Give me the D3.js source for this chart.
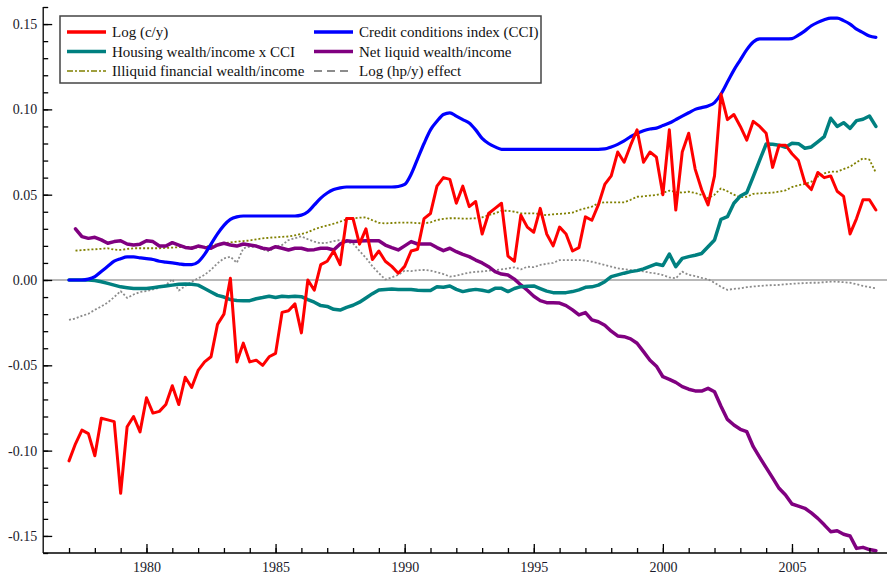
<!DOCTYPE html>
<html><head><meta charset="utf-8">
<script src="https://cdn.jsdelivr.net/npm/d3@7"></script>
<style>body{margin:0;background:#fff}svg{display:block}</style>
</head><body><svg id="c" width="887" height="577"></svg>
<script>
// ---- data (quarterly) ----
const startMain = 1977.0;   // red, blue, teal, gray
const startLate = 1977.25;  // purple, olive
const step = 0.25;

const logCY = [
-0.106,-0.096,-0.088,-0.090,
-0.103,-0.081,-0.082,-0.083,
-0.125,-0.086,-0.080,-0.089,
-0.069,-0.078,-0.077,-0.073,
-0.062,-0.073,-0.057,-0.063,
-0.053,-0.048,-0.045,-0.026,
-0.020,0.001,-0.048,-0.037,
-0.048,-0.047,-0.050,-0.045,
-0.043,-0.019,-0.018,-0.014,
-0.031,0.000,-0.006,0.009,
0.011,0.017,0.009,0.036,
0.036,0.021,0.030,0.012,
0.017,0.011,0.008,0.004,
0.008,0.017,0.018,0.036,
0.039,0.055,0.060,0.059,
0.045,0.055,0.043,0.046,
0.027,0.039,0.042,0.045,
0.014,0.011,0.038,0.031,
0.028,0.042,0.027,0.020,
0.031,0.027,0.017,0.019,
0.037,0.035,0.044,0.056,
0.061,0.075,0.069,0.079,
0.088,0.069,0.075,0.072,
0.050,0.088,0.041,0.075,
0.086,0.065,0.053,0.044,
0.061,0.109,0.094,0.097,
0.090,0.082,0.093,0.090,
0.086,0.066,0.079,0.079,
0.074,0.070,0.057,0.053,
0.063,0.060,0.061,0.052,
0.049,0.027,0.036,0.047,
0.047,0.041];

const cci = [
0,0,0,0.0005,
0.002,0.005,0.008,0.011,
0.0125,0.0135,0.0135,0.013,
0.0125,0.012,0.011,0.0105,
0.010,0.0095,0.009,0.009,
0.0105,0.015,0.021,0.027,
0.032,0.0355,0.037,0.0375,
0.0375,0.0375,0.0375,0.0375,
0.0375,0.0375,0.0375,0.0375,
0.038,0.040,0.044,0.048,
0.051,0.053,0.054,0.0545,
0.0545,0.0545,0.0545,0.0545,
0.0545,0.0545,0.0545,0.0548,
0.056,0.062,0.071,0.080,
0.088,0.093,0.097,0.098,
0.096,0.094,0.092,0.088,
0.083,0.080,0.078,0.0766,
0.0766,0.0766,0.0766,0.0766,
0.0766,0.0766,0.0766,0.0766,
0.0766,0.0766,0.0766,0.0766,
0.0766,0.0766,0.0766,0.0768,
0.078,0.0795,0.0815,0.084,
0.086,0.0875,0.0885,0.089,
0.0905,0.092,0.094,0.096,
0.098,0.100,0.101,0.102,
0.104,0.109,0.116,0.123,
0.129,0.135,0.1395,0.1413,
0.1413,0.1413,0.1413,0.1413,
0.1415,0.1435,0.146,0.149,
0.151,0.1525,0.1535,0.1535,
0.152,0.150,0.147,0.145,
0.143,0.1422];

const housingCCI = [
0,0,0,0,
-0.0003,-0.001,-0.002,-0.003,
-0.004,-0.0045,-0.005,-0.005,
-0.005,-0.0045,-0.004,-0.0035,
-0.003,-0.0025,-0.0023,-0.0025,
-0.003,-0.005,-0.007,-0.009,
-0.010,-0.0115,-0.012,-0.0121,
-0.0121,-0.011,-0.0103,-0.0095,
-0.0103,-0.0095,-0.0098,-0.0095,
-0.0098,-0.0115,-0.013,-0.015,
-0.0155,-0.0172,-0.0176,-0.016,
-0.0148,-0.013,-0.0105,-0.008,
-0.0058,-0.0055,-0.0053,-0.0055,
-0.0055,-0.0056,-0.006,-0.0062,
-0.0062,-0.004,-0.0042,-0.0035,
-0.0055,-0.0068,-0.006,-0.0055,
-0.006,-0.0068,-0.0049,-0.0049,
-0.0068,-0.005,-0.0039,-0.0037,
-0.0035,-0.005,-0.0065,-0.0074,
-0.0074,-0.0074,-0.0068,-0.0058,
-0.0043,-0.0040,-0.003,-0.001,
0.002,0.003,0.004,0.0049,
0.0055,0.0065,0.008,0.0094,
0.0085,0.0152,0.0078,0.0127,
0.0137,0.0145,0.0155,0.0195,
0.0234,0.0356,0.0371,0.045,
0.0492,0.0512,0.0606,0.0703,
0.0797,0.0795,0.079,0.0778,
0.0801,0.0799,0.0772,0.078,
0.081,0.084,0.0948,0.090,
0.0922,0.0889,0.0934,0.0942,
0.0961,0.090];

const netLiquid = [
0.030,0.0254,0.0244,
0.025,0.0235,0.0215,0.0225,
0.023,0.0211,0.0205,0.021,
0.023,0.0225,0.0199,0.0199,
0.0219,0.0205,0.0191,0.0186,
0.0199,0.0191,0.0186,0.0205,
0.0215,0.0205,0.0199,0.0211,
0.0205,0.0199,0.0186,0.018,
0.0195,0.0186,0.0176,0.0186,
0.0186,0.0176,0.0178,0.0186,
0.0186,0.0176,0.0211,0.023,
0.0225,0.0228,0.023,0.023,
0.023,0.0205,0.019,0.0176,
0.020,0.0225,0.0211,0.0211,
0.0211,0.019,0.0172,0.0186,
0.0166,0.015,0.0137,0.0117,
0.010,0.0078,0.0049,0.0035,
0.0029,0.0005,-0.0029,-0.006,
-0.0095,-0.0121,-0.0133,-0.0134,
-0.0135,-0.015,-0.0175,-0.0205,
-0.0191,-0.0234,-0.0245,-0.0265,
-0.030,-0.0328,-0.0332,-0.0345,
-0.0371,-0.042,-0.047,-0.0505,
-0.0567,-0.0582,-0.060,-0.0625,
-0.064,-0.065,-0.0651,-0.0635,
-0.0655,-0.074,-0.0817,-0.085,
-0.0875,-0.0889,-0.0977,-0.104,
-0.110,-0.116,-0.1221,-0.126,
-0.1313,-0.1325,-0.1338,-0.1365,
-0.1397,-0.1435,-0.1475,-0.147,
-0.149,-0.150,-0.1573,-0.1567,
-0.158,-0.1587];

const illiquid = [
0.0172,0.0175,0.0178,
0.018,0.0183,0.0186,0.0178,
0.0176,0.0182,0.0186,0.0186,
0.0186,0.0186,0.0186,0.0188,
0.019,0.0192,0.0195,0.0192,
0.019,0.0195,0.0202,0.021,
0.0215,0.022,0.0225,0.0228,
0.0232,0.0238,0.0244,0.0248,
0.025,0.0253,0.0255,0.0262,
0.027,0.028,0.0297,0.031,
0.032,0.033,0.0342,0.0356,
0.0362,0.0365,0.0367,0.035,
0.0335,0.0332,0.0334,0.0336,
0.0336,0.0336,0.0333,0.0332,
0.0338,0.0352,0.0358,0.0362,
0.0362,0.036,0.036,0.0362,
0.0367,0.038,0.0391,0.0406,
0.0406,0.040,0.0391,0.0391,
0.0391,0.0385,0.038,0.0385,
0.0388,0.039,0.0395,0.041,
0.042,0.043,0.045,0.0455,
0.0455,0.0455,0.0455,0.047,
0.0488,0.049,0.0495,0.0498,
0.051,0.0524,0.0515,0.0512,
0.0518,0.051,0.0498,0.0479,
0.050,0.0537,0.052,0.050,
0.0485,0.0488,0.0505,0.0508,
0.051,0.0512,0.0518,0.0525,
0.0545,0.0555,0.0563,0.0576,
0.0606,0.0625,0.0635,0.0635,
0.065,0.0664,0.069,0.0713,
0.0705,0.0629];

const hpEffect = [
-0.0234,-0.0225,-0.021,-0.0198,
-0.0175,-0.0155,-0.0132,-0.010,
-0.0065,-0.0105,-0.0085,-0.007,
-0.0065,-0.0055,-0.0045,-0.003,
0.0004,-0.0062,-0.0035,-0.001,
0.001,0.003,0.006,0.0098,
0.0127,0.0137,0.0101,0.0186,
0.0195,0.0195,0.018,0.0168,
0.0195,0.0205,0.0234,0.0245,
0.0256,0.0239,0.0225,0.0215,
0.0219,0.0228,0.0234,0.0222,
0.0215,0.017,0.013,0.008,
0.004,0.0003,0.0015,0.003,
0.0055,0.0052,0.0057,0.0059,
0.0055,0.0045,0.0035,0.002,
0.0025,0.0035,0.0043,0.0048,
0.005,0.0055,0.0059,0.0062,
0.0068,0.0074,0.0062,0.0078,
0.0075,0.0088,0.0095,0.010,
0.0117,0.0117,0.0117,0.0117,
0.0114,0.0107,0.0098,0.0088,
0.0078,0.0068,0.0063,0.0058,
0.0055,0.005,0.0043,0.0038,
0.0029,0.0015,0.001,0.0049,
0.003,0.0023,0.0012,0.0004,
-0.0016,-0.004,-0.0058,-0.0052,
-0.0049,-0.0042,-0.0038,-0.0035,
-0.0032,-0.003,-0.0029,-0.0025,
-0.0022,-0.002,-0.0018,-0.0016,
-0.0016,-0.0013,-0.001,-0.001,
-0.0013,-0.0016,-0.0025,-0.0035,
-0.0042,-0.0049];

const yMajorTicks = [-0.15,-0.10,-0.05,0.00,0.05,0.10,0.15];
const xMajorTicks = [1980,1985,1990,1995,2000,2005];

const legendItems = [
  {label:"Log (c/y)", color:"#ff0000", key:"red"},
  {label:"Credit conditions index (CCI)", color:"#0000ff", key:"blue"},
  {label:"Housing wealth/income x CCI", color:"#008080", key:"teal"},
  {label:"Net liquid wealth/income", color:"#800080", key:"purple"},
  {label:"Illiquid financial wealth/income", color:"#808000", key:"olive"},
  {label:"Log (hp/y) effect", color:"#8c8c8c", key:"gray"}
];

// ---- drawing ----
const svg = d3.select("#c");
const FONT = "'Liberation Serif','Times New Roman',serif";
const x = d3.scaleLinear().domain([1976, 2008.75]).range([43.2, 888.8]);
const y = d3.scaleLinear().domain([-0.16, 0.16]).range([553, 7]);
const x0 = x.range()[0];

const toPts = (arr, start) => arr.map((v,i)=>({t:start + i*step, v}));

// zero line
svg.append("line").attr("x1", x0).attr("x2", 887)
  .attr("y1", y(0)).attr("y2", y(0))
  .attr("stroke", "#a0a0a0").attr("stroke-width", 1.5);

const styles = {
  red:   {w:3,   dash:null},
  blue:  {w:3.2, dash:null},
  teal:  {w:3.5, dash:null},
  purple:{w:3.5, dash:null},
  olive: {w:1.8, dash:"2,2"},
  gray:  {w:1.8, dash:"2,2"}
};
const series = [
  {key:"gray",   data: toPts(hpEffect, startMain), curve: d3.curveLinear},
  {key:"olive",  data: toPts(illiquid, startLate), curve: d3.curveLinear},
  {key:"purple", data: toPts(netLiquid, startLate), curve: d3.curveLinear},
  {key:"teal",   data: toPts(housingCCI, startMain), curve: d3.curveLinear},
  {key:"blue",   data: toPts(cci, startMain), curve: d3.curveMonotoneX},
  {key:"red",    data: toPts(logCY, startMain), curve: d3.curveLinear}
];
const colorOf = k => legendItems.find(d=>d.key===k).color;
series.forEach(s=>{
  const line = d3.line().x(d=>x(d.t)).y(d=>y(d.v)).curve(s.curve);
  svg.append("path").datum(s.data).attr("d", line)
    .attr("fill","none").attr("stroke", colorOf(s.key))
    .attr("stroke-width", styles[s.key].w)
    .attr("stroke-dasharray", styles[s.key].dash)
    .attr("stroke-linejoin","round").attr("stroke-linecap", styles[s.key].dash ? "butt" : "round");
});

// axes
const fmt = d => d.toFixed(2);
const yMinor = d3.range(-16,17).map(i=>i/100);
svg.append("g").attr("transform",`translate(${x0},0)`)
  .call(d3.axisLeft(y).tickValues(yMinor).tickSize(-5).tickFormat(""))
  .call(g=>g.select(".domain").remove());
const gy = svg.append("g").attr("transform",`translate(${x0},0)`)
  .call(d3.axisLeft(y).tickValues(yMajorTicks).tickSize(-9).tickPadding(6).tickFormat(fmt));
gy.select(".domain").attr("d", `M0,${y(0.16)}V${y(-0.16)}`);

const xMinor = d3.range(1977, 2009);
svg.append("g").attr("transform",`translate(0,${y(-0.16)})`)
  .call(d3.axisBottom(x).tickValues(xMinor).tickSize(-5).tickFormat(""))
  .call(g=>g.select(".domain").remove());
const gx = svg.append("g").attr("transform",`translate(0,${y(-0.16)})`)
  .call(d3.axisBottom(x).tickValues(xMajorTicks).tickSize(-9).tickPadding(9.5).tickFormat(d3.format("d")));
gx.select(".domain").attr("d", `M${x0},0H887`);

svg.selectAll(".tick line, .domain").attr("stroke","#000").attr("stroke-width",1.3);
svg.selectAll(".tick text").attr("font-family", FONT).attr("font-size", 14).attr("fill","#1a1a2a");

// legend
const lg = svg.append("g");
lg.append("rect").attr("x",60).attr("y",16).attr("width",481).attr("height",67)
  .attr("fill","#fff").attr("stroke","#444").attr("stroke-width",1.5);
const rowsY = [32, 51.5, 71];
const colX = [67, 314];
legendItems.forEach((d,i)=>{
  const r = Math.floor(i/2), c = i%2;
  const yy = rowsY[r], xx = colX[c];
  let w = 3.5, dash = null;
  if (d.key==="olive"){ w = 1.6; dash = "6,2,2,2"; }
  if (d.key==="gray"){ w = 2; dash = "8,5"; }
  lg.append("line").attr("x1",xx).attr("x2",xx+39).attr("y1",yy).attr("y2",yy)
    .attr("stroke", d.color).attr("stroke-width", w).attr("stroke-dasharray", dash);
  lg.append("text").attr("x", xx+45).attr("y", yy).attr("dy","0.35em")
    .attr("font-family", FONT).attr("font-size", 15).attr("fill","#111").text(d.label);
});
</script></body></html>
